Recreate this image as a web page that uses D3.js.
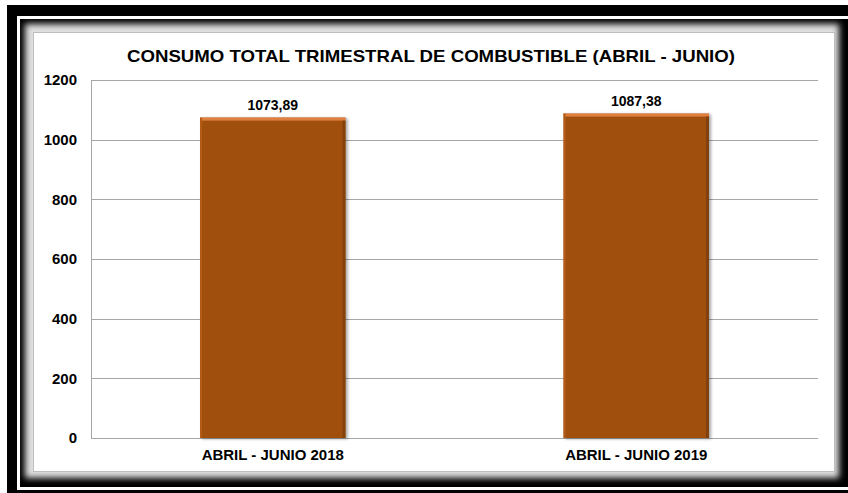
<!DOCTYPE html>
<html>
<head>
<meta charset="utf-8">
<script src="https://cdn.jsdelivr.net/npm/d3@7"></script>
<style>
  body { margin: 0; background: #fff; }
  text { font-family: "Liberation Sans", Arial, sans-serif; font-weight: bold; fill: #000; }
</style>
</head>
<body>
<div id="d3-container"></div>
<script>
const categories = ['ABRIL - JUNIO 2018', 'ABRIL - JUNIO 2019'];
const values = [1073.89, 1087.38];
const valueLabels = ['1073,89', '1087,38'];
const yTicks = [0, 200, 400, 600, 800, 1000, 1200];
const title = 'CONSUMO TOTAL TRIMESTRAL DE COMBUSTIBLE (ABRIL - JUNIO)';

const width = 848;
const height = 493;
const margin = { top: 80, bottom: 55, left: 91, right: 30 };

const svg = d3.select('#d3-container')
    .append('svg')
    .attr('width', width)
    .attr('height', height);

const defs = svg.append('defs');

defs.append('filter')
    .attr('id', 'soft')
    .attr('x', '-5%').attr('y', '-5%').attr('width', '110%').attr('height', '110%')
    .append('feGaussianBlur')
    .attr('stdDeviation', 3);

const shadow = defs.append('filter')
    .attr('id', 'barShadow')
    .attr('x', '-10%').attr('y', '-10%').attr('width', '125%').attr('height', '120%');
shadow.append('feDropShadow')
    .attr('dx', 2).attr('dy', 1)
    .attr('stdDeviation', 1.5)
    .attr('flood-color', '#000')
    .attr('flood-opacity', 0.35);

const x = d3.scaleBand()
    .domain(categories)
    .range([margin.left, width - margin.right])
    .paddingInner(0.6)
    .paddingOuter(0.3);

const y = d3.scaleLinear()
    .domain([0, 1200])
    .range([height - margin.bottom, margin.top]);

// frame: thick black border, white hairline, inner black, soft grey bevel, white panel
function frame(g) {
  g.append('rect')
    .attr('x', 7).attr('y', 5)
    .attr('width', width).attr('height', height)
    .attr('fill', '#000');
  g.append('rect')
    .attr('x', 18.5).attr('y', 17.5)
    .attr('width', width).attr('height', 471)
    .attr('fill', 'none')
    .attr('stroke', '#fff')
    .attr('stroke-width', 3);
  g.append('rect')
    .attr('x', 25).attr('y', 24)
    .attr('width', 814).attr('height', 454)
    .attr('fill', '#e0e0e0')
    .attr('filter', 'url(#soft)');
  g.append('rect')
    .attr('x', 33.5).attr('y', 32.5)
    .attr('width', 801).attr('height', 439)
    .attr('fill', '#fff')
    .attr('stroke', '#bdbdbd')
    .attr('stroke-width', 1);
}

function grid(g) {
  g.selectAll('line')
    .data(yTicks)
    .join('line')
    .attr('x1', margin.left)
    .attr('x2', width - margin.right)
    .attr('y1', d => Math.round(y(d)) + 0.5)
    .attr('y2', d => Math.round(y(d)) + 0.5)
    .attr('stroke', '#a6a6a6')
    .attr('stroke-width', 1);
  g.append('line')
    .attr('x1', margin.left + 0.5)
    .attr('x2', margin.left + 0.5)
    .attr('y1', y(1200))
    .attr('y2', y(0))
    .attr('stroke', '#a6a6a6');
}

function yAxis(g) {
  g.attr('transform', `translate(${margin.left}, 0)`)
    .call(d3.axisLeft(y).tickValues(yTicks).tickFormat(d3.format('d')).tickSize(0).tickPadding(14))
    .attr('font-size', '15px')
    .attr('font-family', null)
    .call(g => g.select('.domain').remove())
    .call(g => g.selectAll('text').attr('fill', '#000'));
}

function xAxis(g) {
  g.attr('transform', `translate(0, ${height - margin.bottom})`)
    .call(d3.axisBottom(x).tickSize(0).tickPadding(11))
    .attr('font-size', '15px')
    .attr('font-family', null)
    .call(g => g.select('.domain').remove())
    .call(g => g.selectAll('text').attr('fill', '#000'));
}

function bars(g) {
  const bar = g.selectAll('g')
    .data(categories)
    .join('g')
    .attr('filter', 'url(#barShadow)');

  bar.append('rect')
    .attr('x', d => x(d))
    .attr('y', (d, i) => y(values[i]))
    .attr('width', x.bandwidth())
    .attr('height', (d, i) => y(0) - y(values[i]))
    .attr('fill', '#a04f0d');

  // bevel: light top edge and darker right edge
  bar.append('rect')
    .attr('x', d => x(d))
    .attr('y', (d, i) => y(values[i]))
    .attr('width', x.bandwidth())
    .attr('height', 3)
    .attr('fill', '#e08040');
  bar.append('rect')
    .attr('x', d => x(d))
    .attr('y', (d, i) => y(values[i]))
    .attr('width', 2)
    .attr('height', (d, i) => y(0) - y(values[i]))
    .attr('fill', '#b45c18');
  bar.append('rect')
    .attr('x', d => x(d) + x.bandwidth() - 3)
    .attr('y', (d, i) => y(values[i]) + 3)
    .attr('width', 3)
    .attr('height', (d, i) => y(0) - y(values[i]) - 3)
    .attr('fill', '#84400a');
}

function dataLabels(g) {
  g.selectAll('text')
    .data(categories)
    .join('text')
    .attr('x', d => x(d) + x.bandwidth() / 2)
    .attr('y', (d, i) => y(values[i]) - 8)
    .attr('text-anchor', 'middle')
    .attr('font-size', '14px')
    .text((d, i) => valueLabels[i]);
}

function chartTitle(g) {
  g.append('text')
    .attr('x', 431)
    .attr('y', 62)
    .attr('text-anchor', 'middle')
    .attr('font-size', '17px')
    .attr('textLength', 608)
    .attr('lengthAdjust', 'spacingAndGlyphs')
    .text(title);
}

svg.append('g').call(frame);
svg.append('g').call(grid);
svg.append('g').call(bars);
svg.append('g').call(yAxis);
svg.append('g').call(xAxis);
svg.append('g').call(dataLabels);
svg.append('g').call(chartTitle);
</script>
</body>
</html>
